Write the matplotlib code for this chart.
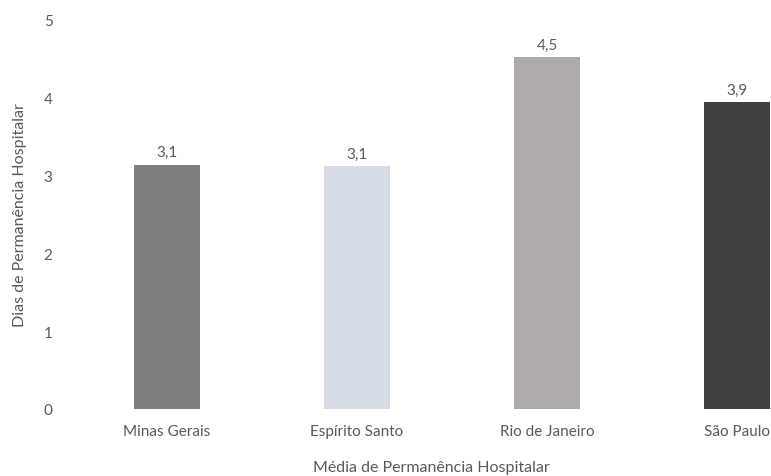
import matplotlib.pyplot as plt

# data
estados = ['Minas Gerais', 'Espírito Santo', 'Rio de Janeiro', 'São Paulo']
media_dias = [3.14, 3.12, 4.52, 3.94]
rotulos = ['3,1', '3,1', '4,5', '3,9']
cores = ['#7f7f7f', '#d6dce5', '#aeaaaa', '#404040']

plt.rcParams['font.family'] = ['Lato', 'DejaVu Sans']
texto = '#595959'
fs = 11

fig = plt.figure(figsize=(7.71, 4.77), dpi=100)
W, H = 771, 477
# plot area in pixels (extends past the right edge, as in the picture)
ax = fig.add_axes([72 / W, 1 - 410 / H, 760 / W, 389 / H])

x = range(len(estados))
ax.bar(x, media_dias, width=0.35, color=cores)

for i, v in enumerate(media_dias):
    ax.annotate(rotulos[i], (i, v), xytext=(0, 4), textcoords='offset points',
                ha='center', va='bottom', fontsize=fs, color=texto)

ax.set_xlim(-0.5, 3.5)
ax.set_ylim(0, 5)
ax.set_yticks(range(6))
ax.set_xticks(list(x))
ax.set_xticklabels(estados)
ax.tick_params(axis='both', length=0, colors=texto, labelsize=fs)
ax.tick_params(axis='y', pad=14)
ax.tick_params(axis='x', pad=11)
for s in ax.spines.values():
    s.set_visible(False)

ax.set_ylabel('Dias de Permanência Hospitalar', color=texto, fontsize=fs + 0.5, labelpad=12)
fig.text(431 / W, 1 - 468 / H, 'Média de Permanência Hospitalar', ha='center',
         va='center', color=texto, fontsize=fs + 0.5)

fig.savefig('out.png', dpi=100)
